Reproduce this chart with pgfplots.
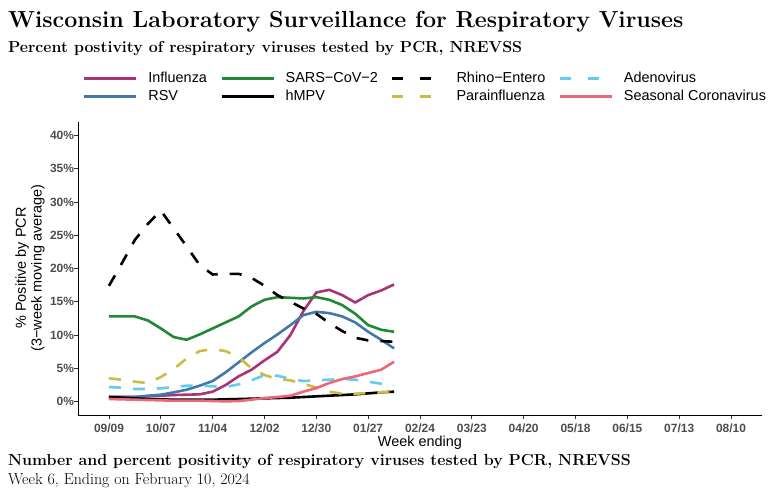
\documentclass[border=0pt]{standalone}
\usepackage{pgfplots}
\usepackage{pgfplotstable}
\pgfplotsset{compat=1.18}
\usepackage{fontspec}
\setsansfont{Liberation Sans}
\definecolor{flu}{HTML}{AA3377}
\definecolor{rsv}{HTML}{4477AA}
\definecolor{cov}{HTML}{228833}
\definecolor{para}{HTML}{CCBB44}
\definecolor{adeno}{HTML}{66CCEE}
\definecolor{scov}{HTML}{EE6677}
\definecolor{gray30}{HTML}{4D4D4D}
\definecolor{gray20}{HTML}{333333}

\pgfplotstableread{
w  flu  rsv  cov  hmpv rhino para adeno scov
0  0.7  0.7  12.8 0.7  17.4  3.5  2.2  0.4
1  0.7  0.7  12.8 0.6  20.8  3.3  2.1  0.35
2  0.7  0.7  12.8 0.5  24.3  3.0  1.9  0.3
3  0.8  0.9  12.2 0.4  26.7  2.8  1.9  0.25
4  0.9  1.05 11.0 0.35 28.7  3.7  2.0  0.2
5  1.0  1.4  9.7  0.3  26.0  4.9  2.2  0.15
6  1.05 1.8  9.3  0.3  23.3  6.5  2.4  0.15
7  1.1  2.4  10.1 0.3  20.5  7.6  2.4  0.15
8  1.5  3.1  11.0 0.3  19.1  7.9  2.3  0.1
9  2.5  4.4  11.9 0.35 19.2  7.6  2.2  0.05
10 3.8  5.9  12.8 0.4  19.2  6.7  2.6  0.1
11 4.8  7.4  14.3 0.45 18.6  5.0  3.2  0.3
12 6.2  8.8  15.3 0.5  17.4  4.0  4.0  0.55
13 7.5  10.1 15.7 0.55 16.0  3.4  3.9  0.7
14 10.0 11.5 15.6 0.6  15.0  3.2  3.4  0.9
15 13.6 13.0 15.5 0.7  14.0  2.7  3.1  1.5
16 16.4 13.5 15.7 0.8  13.2  2.1  3.2  2.05
17 16.8 13.3 15.3 0.9  11.8  1.5  3.3  2.8
18 16.0 12.8 14.5 1.0  10.6  1.2  3.4  3.4
19 14.9 11.9 13.2 1.1  9.6   1.2  3.3  3.8
20 16.0 10.5 11.5 1.25 9.2   1.3  3.0  4.3
21 16.7 9.3  10.8 1.4  9.1   1.4  2.7  4.8
22 17.6 8.0  10.5 1.5  9.0   1.4  2.5  6.0
}\data

\begin{document}
\begin{tikzpicture}
\path[use as bounding box] (-78bp,-76bp) rectangle (691bp,415bp);
\begin{axis}[
  at={(0bp,0bp)}, anchor=south west,
  scale only axis, width=684bp, height=293bp,
  xmin=-2.39, xmax=50.39, ymin=-2, ymax=42,
  axis x line*=bottom, axis y line*=left,
  axis line style={black, line width=0.9bp},
  xtick={0,4,...,48},
  xticklabels={09/09,10/07,11/04,12/02,12/30,01/27,02/24,03/23,04/20,05/18,06/15,07/13,08/10},
  ytick={0,5,...,40},
  yticklabels={0\%,5\%,10\%,15\%,20\%,25\%,30\%,35\%,40\%},
  tick align=outside, major tick length=3.5bp,
  tick style={gray20, line width=0.8bp},
  ticklabel style={font=\sffamily\bfseries\fontsize{12}{14}\selectfont, text=gray30},
  xticklabel style={yshift=-1.5bp},
  yticklabel style={xshift=3bp},
  legend columns=4, legend cell align=left,
  legend style={at={(axis description cs:0.0073,1.172)}, anchor=north west,
    draw=none, fill=none, inner sep=0pt, outer sep=0pt, row sep=4.5bp,
    font=\sffamily\fontsize{14.5}{17}\selectfont,
    nodes={inner sep=0pt, text height=10.5bp, text depth=3bp},
    /tikz/every odd column/.append style={column sep=10.8bp},
    /tikz/every even column/.append style={column sep=13.2bp}},
  legend image code/.code={\draw[#1] (0bp,0bp) -- (52bp,0bp);},
]
\addplot[flu, line width=2.6bp, forget plot] table[x=w,y=flu]{\data};
\addplot[rsv, line width=2.6bp, forget plot] table[x=w,y=rsv]{\data};
\addplot[cov, line width=2.6bp, forget plot] table[x=w,y=cov]{\data};
\addplot[black, line width=2.6bp, forget plot] table[x=w,y=hmpv]{\data};
\addplot[black, line width=2.6bp, dash pattern=on 12bp off 12bp, forget plot] table[x=w,y=rhino]{\data};
\addplot[para, line width=2.6bp, dash pattern=on 12bp off 12bp, forget plot] table[x=w,y=para]{\data};
\addplot[adeno, line width=2.6bp, dash pattern=on 12bp off 12bp, forget plot] table[x=w,y=adeno]{\data};
\addplot[scov, line width=2.6bp, forget plot] table[x=w,y=scov]{\data};

\addlegendimage{flu, line width=2.6bp}
\addlegendentry{Influenza}
\addlegendimage{cov, line width=2.6bp}
\addlegendentry{SARS−CoV−2}
\addlegendimage{black, line width=2.6bp, dash pattern=on 11bp off 17bp}
\addlegendentry{Rhino−Entero}
\addlegendimage{adeno, line width=2.6bp, dash pattern=on 11bp off 17bp}
\addlegendentry{Adenovirus}
\addlegendimage{rsv, line width=2.6bp}
\addlegendentry{RSV}
\addlegendimage{black, line width=2.6bp}
\addlegendentry{hMPV}
\addlegendimage{para, line width=2.6bp, dash pattern=on 11bp off 17bp}
\addlegendentry{Parainfluenza}
\addlegendimage{scov, line width=2.6bp}
\addlegendentry{Seasonal Coronavirus}
\end{axis}
\node[anchor=base west, inner sep=0pt, font=\bfseries\fontsize{23.3}{28}\selectfont] at (-70bp,387.7bp) {Wisconsin Laboratory Surveillance for Respiratory Viruses};
\node[anchor=base west, inner sep=0pt, font=\bfseries\fontsize{16}{19}\selectfont] at (-70bp,362.7bp) {Percent postivity of respiratory viruses tested by PCR, NREVSS};
\node[rotate=90, align=center, inner sep=0pt, font=\sffamily\fontsize{14.5}{16}\selectfont] at (-48bp,147bp) {\% Positive by PCR\\(3−week moving average)};
\node[anchor=base, inner sep=0pt, font=\sffamily\fontsize{14.5}{17}\selectfont] at (342bp,-31.5bp) {Week ending};
\node[anchor=base west, inner sep=0pt, font=\bfseries\fontsize{16}{19}\selectfont] at (-70bp,-50.5bp) {Number and percent positivity of respiratory viruses tested by PCR, NREVSS};
\node[anchor=base west, inner sep=0pt, font=\fontsize{16}{19}\selectfont] at (-70bp,-69.3bp) {Week 6, Ending on February 10, 2024};
\end{tikzpicture}
\end{document}
